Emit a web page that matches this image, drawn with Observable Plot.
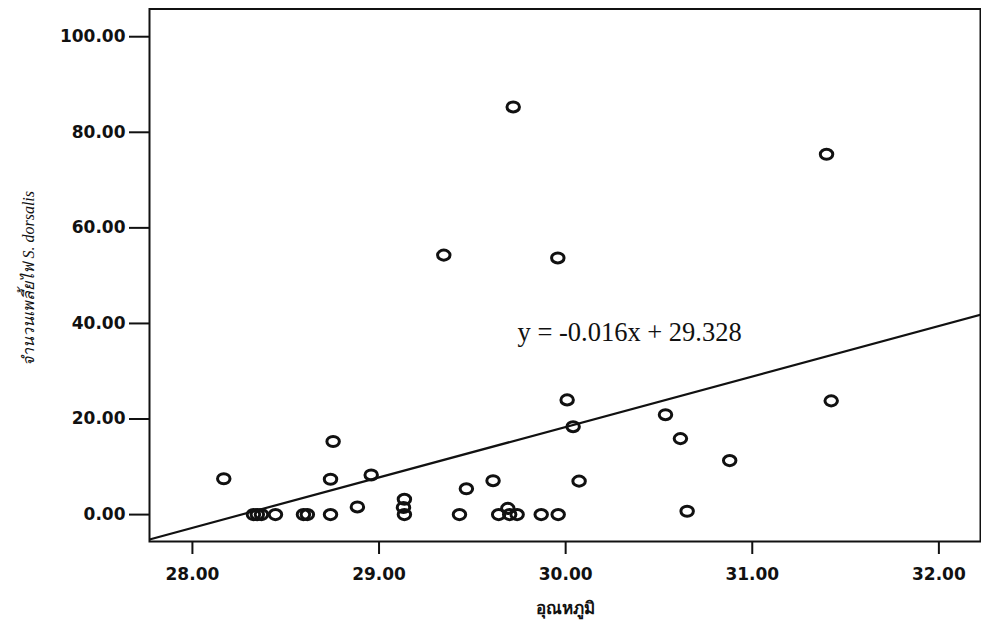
<!DOCTYPE html>
<html>
<head>
<meta charset="utf-8">
<script src="https://cdn.jsdelivr.net/npm/d3@7"></script>
<script src="https://cdn.jsdelivr.net/npm/@observablehq/plot@0.6"></script>
<style>
  html, body { margin: 0; padding: 0; background: #fff; }
  #chart svg { display: block; }
</style>
</head>
<body>
<div id="chart"></div>
<script>
// Mean air temperature (°C) at each sampling date
const temperature = [
  28.168, 28.327, 28.348, 28.370, 28.445, 28.595, 28.616, 28.740, 28.740,
  28.754, 28.884, 28.958, 29.136, 29.131, 29.136, 29.347, 29.431, 29.468,
  29.611, 29.641, 29.690, 29.700, 29.719, 29.740, 29.869, 29.958, 29.960,
  30.008, 30.040, 30.072, 30.535, 30.615, 30.651, 30.879, 31.398, 31.423
];
// Number of S. dorsalis thrips counted on the same dates
const thrips = [
  7.5, 0, 0, 0, 0, 0, 0, 0, 7.4,
  15.3, 1.6, 8.3, 3.2, 1.5, 0, 54.3, 0, 5.4,
  7.1, 0, 1.3, 0, 85.3, 0, 0, 53.7, 0,
  24.0, 18.4, 7.0, 20.9, 15.9, 0.7, 11.3, 75.4, 23.8
];
// Trend line drawn across the plot
const trendX = [27.77, 32.223];
const trendY = [-5.2, 41.8];
const trendLabel = "y = -0.016x + 29.328";

const xTicks = [28, 29, 30, 31, 32];
const yTicks = [0, 20, 40, 60, 80, 100];
const xLabel = "อุณหภูมิ";
const yLabel = "จำนวนเพลี้ยไฟ S. dorsalis";

const points = temperature.map((t, i) => ({t, n: thrips[i]}));
const trend = trendX.map((x, i) => ({x, y: trendY[i]}));

// open marker, slightly wider than tall
const ring = {
  draw(ctx, size) {
    const r = Math.sqrt(size / Math.PI);
    const rx = r * 1.04, ry = r * 0.84, k = 0.5523;
    ctx.moveTo(rx, 0);
    ctx.bezierCurveTo(rx, ry * k, rx * k, ry, 0, ry);
    ctx.bezierCurveTo(-rx * k, ry, -rx, ry * k, -rx, 0);
    ctx.bezierCurveTo(-rx, -ry * k, -rx * k, -ry, 0, -ry);
    ctx.bezierCurveTo(rx * k, -ry, rx, -ry * k, rx, 0);
    ctx.closePath();
  }
};

const fmt = d3.format(".2f");

const chart = Plot.plot({
  width: 981,
  height: 626,
  marginLeft: 149,
  marginRight: 1,
  marginTop: 8.5,
  marginBottom: 85,
  style: {fontFamily: "DejaVu Sans", fontSize: "17px", fontWeight: "bold", color: "#111", background: "#fff"},
  x: {domain: [27.77, 32.223]},
  y: {domain: [-5.63, 105.8]},
  marks: [
    Plot.frame({stroke: "#111", strokeWidth: 2}),
    Plot.axisY({ticks: yTicks, tickFormat: fmt, tickSize: 20, tickPadding: 4, strokeWidth: 2, label: null}),
    Plot.axisX({ticks: xTicks, tickFormat: fmt, tickSize: 13, tickPadding: 13, strokeWidth: 2, label: null}),
    Plot.line(trend, {x: "x", y: "y", stroke: "#111", strokeWidth: 2.2, clip: true}),
    Plot.dot(points, {x: "t", y: "n", r: 6, symbol: ring, fill: "none", stroke: "#111", strokeWidth: 3}),
    Plot.text([trendLabel], {
      x: 29.742, y: 38.2, textAnchor: "start",
      fontFamily: "Liberation Serif", fontSize: 26.5, fontWeight: "normal", fill: "#111"
    }),
    Plot.text([xLabel], {
      frameAnchor: "bottom", dy: 72,
      fontFamily: "Noto Sans, DejaVu Sans", fontSize: 17, fontWeight: "bold", fill: "#111"
    }),
    Plot.text([yLabel], {
      frameAnchor: "left", textAnchor: "middle", dx: -121, dy: 3, rotate: -90,
      fontFamily: "Liberation Serif", fontStyle: "italic", fontSize: 16, fontWeight: "normal", fill: "#111"
    })
  ]
});

document.getElementById("chart").appendChild(chart);
</script>
</body>
</html>
